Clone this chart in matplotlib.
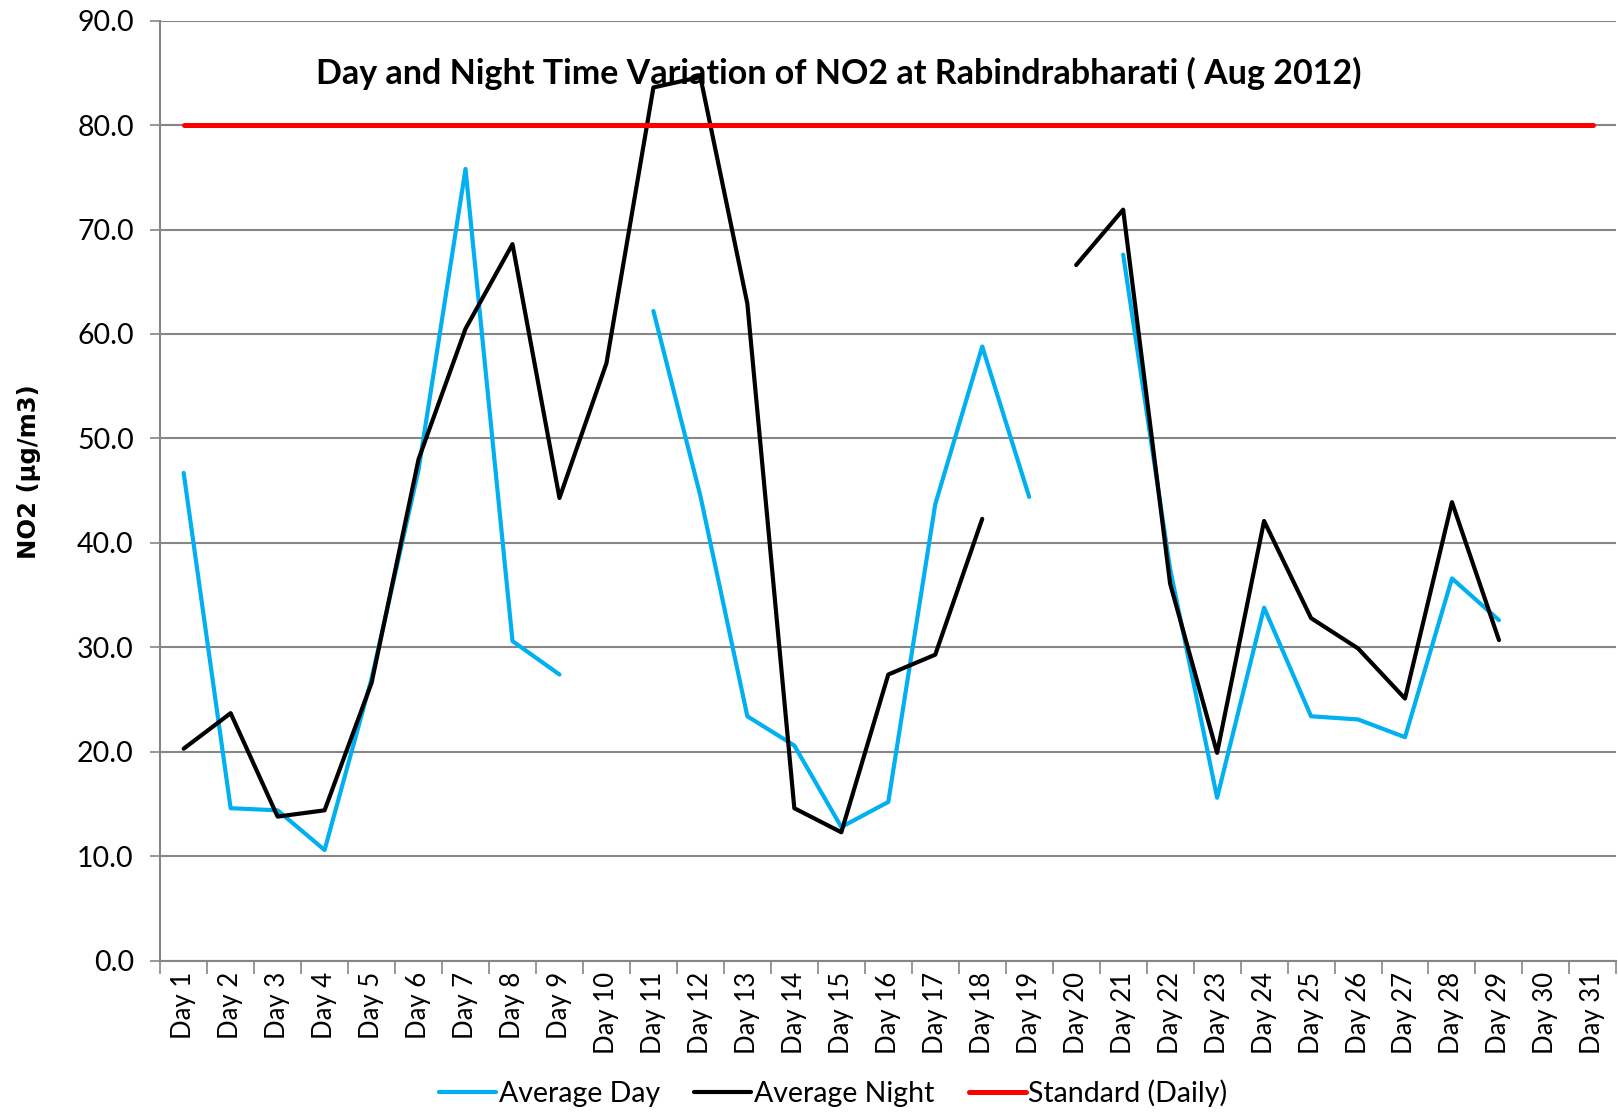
import numpy as np
import matplotlib
matplotlib.use("Agg")
import matplotlib.pyplot as plt

plt.rcParams['font.family'] = ['Lato', 'DejaVu Sans']

nan = np.nan
days = ["Day %d" % i for i in range(1, 32)]

# Average Day (blue)
avg_day = [46.7, 14.6, 14.4, 10.6, 27.0, 47.0, 75.8, 30.6, 27.4, nan,
           62.2, 44.5, 23.4, 20.6, 12.8, 15.2, 43.7, 58.8, 44.4, nan,
           67.6, 37.5, 15.6, 33.8, 23.4, 23.1, 21.4, 36.6, 32.6, nan, nan]

# Average Night (black)
avg_night = [20.3, 23.7, 13.8, 14.4, 26.6, 48.0, 60.5, 68.6, 44.3, 57.2,
             83.6, 84.6, 62.9, 14.6, 12.3, 27.4, 29.3, 42.3, nan, 66.6,
             71.9, 36.1, 19.9, 42.1, 32.8, 29.9, 25.1, 43.9, 30.7, nan, nan]

standard = [80.0] * 31

fig = plt.figure(figsize=(16.18, 11.13), dpi=100)
ax = fig.add_axes([0.099, 0.1368, 0.9, 0.8447])

x = np.arange(len(days))
ax.plot(x, avg_day, color='#00B0F0', lw=3, label='Average Day', solid_capstyle='round')
ax.plot(x, avg_night, color='black', lw=3, label='Average Night', solid_capstyle='round')
ax.plot(x, standard, color='#FF0000', lw=3.6, label='Standard (Daily)', solid_capstyle='round')

ax.set_xlim(-0.5, 30.5)
ax.set_ylim(0, 90)
ax.set_yticks(np.arange(0, 91, 10))
ax.set_yticklabels(["%.1f" % v for v in np.arange(0, 91, 10)], fontsize=20.5)
ax.set_xticks(x)
ax.set_xticklabels(days, rotation=90, fontsize=18.5)
ax.set_xticks(np.arange(-0.5, 31, 1), minor=True)
ax.tick_params(axis='x', which='major', length=0, pad=8)
ax.tick_params(axis='x', which='minor', length=9, width=1.2, color='#868686')
ax.tick_params(axis='y', length=7, width=1.2, color='#868686', pad=12)

ax.grid(axis='y', color='#868686', lw=1.5)
ax.set_axisbelow(True)
for s in ['top', 'right']:
    ax.spines[s].set_visible(False)
for s in ['left', 'bottom']:
    ax.spines[s].set_color('#868686')
    ax.spines[s].set_linewidth(1.5)

ax.set_ylabel('NO2 (µg/m3)', fontsize=17.5, fontweight='bold',
              family=['DejaVu Sans'])
ax.yaxis.set_label_coords(-0.082, 0.52)

ax.text(0.466, 0.944, 'Day and Night Time Variation of NO2 at Rabindrabharati ( Aug 2012)',
        transform=ax.transAxes, ha='center', va='center', fontsize=24.5, fontweight='bold')

fig.legend(loc='lower center', bbox_to_anchor=(0.515, -0.018), ncol=3, frameon=False,
           fontsize=20.5, handlelength=2.0, handletextpad=0.1, columnspacing=1.2)

plt.savefig('out.png', dpi=100)
